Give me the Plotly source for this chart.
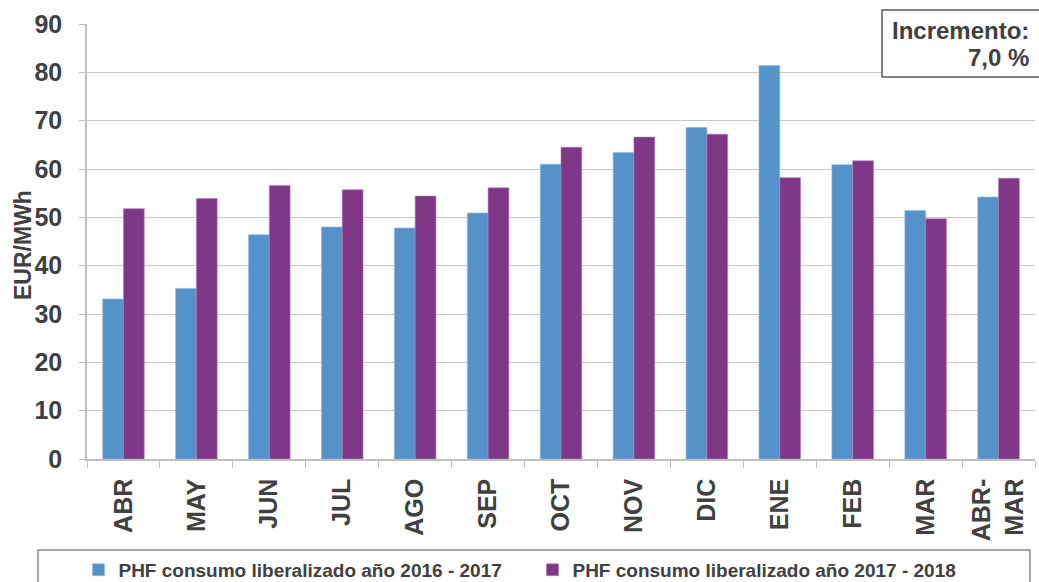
import plotly.graph_objects as go

months = ["ABR", "MAY", "JUN", "JUL", "AGO", "SEP", "OCT", "NOV", "DIC",
          "ENE", "FEB", "MAR", "ABR-<br>MAR"]
phf_2016_2017 = [33.1, 35.3, 46.4, 48.0, 47.8, 50.9, 61.0, 63.4, 68.6, 81.4, 60.9, 51.4, 54.2]
phf_2017_2018 = [51.8, 53.9, 56.6, 55.7, 54.4, 56.1, 64.5, 66.6, 67.2, 58.2, 61.7, 49.7, 58.1]
series_names = ["PHF consumo liberalizado año 2016 - 2017",
                "PHF consumo liberalizado año 2017 - 2018"]
y_ticks = [0, 10, 20, 30, 40, 50, 60, 70, 80, 90]

TEXT = "#404040"
FONT = "Liberation Sans, Arial, sans-serif"

fig = go.Figure()
fig.add_trace(go.Bar(x=months, y=phf_2016_2017, name=series_names[0],
                     marker=dict(color="#5592C8", line=dict(color="#8FB8E0", width=0.6))))
fig.add_trace(go.Bar(x=months, y=phf_2017_2018, name=series_names[1],
                     marker=dict(color="#7F3788", line=dict(color="#B07AB8", width=0.6))))

fig.update_layout(
    width=1039, height=582,
    margin=dict(l=87, r=4, t=24, b=123, autoexpand=False),
    paper_bgcolor="white", plot_bgcolor="white",
    barmode="group", bargap=0.43, bargroupgap=0,
    font=dict(family=FONT, color=TEXT),
    showlegend=True,
    legend=dict(orientation="h", x=-0.009, y=-0.255, xanchor="left", yanchor="middle",
                entrywidth=409, entrywidthmode="pixels",
                font=dict(size=19, family=FONT, color=TEXT, weight="bold"),
                itemwidth=30, tracegroupgap=0, bgcolor="rgba(0,0,0,0)"),
    xaxis=dict(type="category", tickangle=-90, showgrid=False,
               showline=True, linecolor="#BFBFBF", linewidth=1.5,
               ticks="outside", tickson="boundaries", ticklen=7, tickcolor="#BFBFBF",
               ticklabelstandoff=8,
               tickfont=dict(size=25, family=FONT, color=TEXT, weight="bold")),
    yaxis=dict(range=[0, 90], tickvals=y_ticks, showgrid=True,
               gridcolor="#C8C8C8", gridwidth=1.2,
               showline=True, linecolor="#BFBFBF", linewidth=1.5,
               ticks="outside", ticklen=6, tickcolor="#BFBFBF", zeroline=False,
               ticklabelstandoff=12,
               tickfont=dict(size=25, family=FONT, color=TEXT, weight="bold")),
)

# Vertical axis title
fig.add_annotation(xref="paper", yref="paper", x=(23 - 87) / 948, y=0.492,
                   xanchor="center", yanchor="middle", textangle=-90, showarrow=False,
                   text="EUR/MWh",
                   font=dict(size=23, family=FONT, color=TEXT, weight="bold"))

# Legend frame below the chart
fig.add_shape(type="rect", xref="paper", yref="paper",
              x0=-0.0517, x1=0.9947, y0=-0.2092, y1=-0.33,
              line=dict(color="#8C8C8C", width=1.5), fillcolor="rgba(0,0,0,0)")

# Increment box in the top-right corner
fig.add_shape(type="rect", xref="paper", yref="paper",
              x0=0.8386, x1=1.02, y0=1.032, y1=0.878,
              line=dict(color="#595959", width=1.5), fillcolor="white", layer="above")
fig.add_annotation(xref="paper", yref="paper", x=0.9958, y=0.986, xanchor="right",
                   yanchor="middle", showarrow=False, text="Incremento:",
                   font=dict(size=24, family=FONT, color=TEXT, weight="bold"))
fig.add_annotation(xref="paper", yref="paper", x=0.9958, y=0.924, xanchor="right",
                   yanchor="middle", showarrow=False, text="7,0 %",
                   font=dict(size=24, family=FONT, color=TEXT, weight="bold"))

fig.write_html("out.html")
